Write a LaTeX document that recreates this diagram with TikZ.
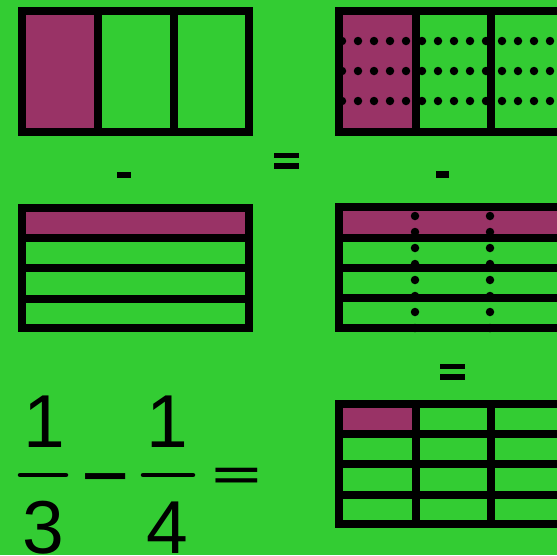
\documentclass[tikz,border=0pt]{standalone}
\usepackage{fontspec}
\setmainfont{Liberation Sans}
\usetikzlibrary{positioning}
\definecolor{bggreen}{RGB}{51,204,51}
\definecolor{plum}{RGB}{153,51,102}

\begin{document}
\begin{tikzpicture}[x=1pt,y=-1pt,
  frame/.style={draw=black,line width=8pt},
  part/.style={fill=plum},
  sign/.style={fill=black},
  dot/.style={circle,fill=black,minimum size=8.5pt,inner sep=0pt},
  digit/.style={font=\fontsize{75}{75}\selectfont,inner sep=0pt,anchor=base},
  bar/.style={line width=4.5pt,line cap=round}
]
\fill[bggreen] (0,0) rectangle (557,555);
\useasboundingbox (0,0) rectangle (557,555);

% one third
\fill[part] (26,15) rectangle (98,128);
\draw[frame] (22,11) rectangle (249,132);
\draw[frame] (98,11) -- (98,132) (173.5,11) -- (173.5,132);
\fill[sign] (117,172) rectangle (131,178);

% one quarter
\fill[part] (26,212) rectangle (245,237);
\draw[frame] (22,208) rectangle (249,328);
\draw[frame] (22,237.5) -- (249,237.5) (22,268) -- (249,268) (22,298.5) -- (249,298.5);

\fill[sign] (274,153) rectangle (299,158);
\fill[sign] (274,163) rectangle (299,169);

% thirds cut in twelfths
\fill[part] (343,15) rectangle (415,128);
\draw[frame] (339,11) rectangle (566,132);
\draw[frame] (415.5,11) -- (415.5,132) (491,11) -- (491,132);
\foreach \i in {0,...,13}
  \foreach \r in {41,71,101}
    \node[dot] (t\i-\r) at ({342+16*\i},\r) {};
\fill[sign] (436,171) rectangle (449,178);

% quarters cut in twelfths
\fill[part] (343,211) rectangle (566,237);
\draw[frame] (339,206.5) rectangle (566,328);
\draw[frame] (339,237.5) -- (566,237.5) (339,268) -- (566,268) (339,298) -- (566,298);
\foreach \c in {415,490}
  \foreach \k in {0,...,7}
    \node[dot] (q\c-\k) at (\c,{216+16*\k}) {};

\fill[sign] (440,364) rectangle (465,369);
\fill[sign] (440,374) rectangle (465,380);

% result
\fill[part] (343,408) rectangle (415.5,434);
\draw[frame] (339,404) rectangle (566,524.3);
\draw[frame] (339,434) -- (566,434) (339,464.3) -- (566,464.3) (339,494.5) -- (566,494.5);
\draw[frame] (415.5,404) -- (415.5,524.3) (491,404) -- (491,524.3);

% fractions
\node[digit] (numA) at (44.5,447) {1};
\node[digit] (denA) at (43,553) {3};
\node[digit] (numB) at (167,447) {1};
\node[digit] (denB) at (167,553) {4};
\draw[bar] (20,475) -- (66,475);
\draw[bar] (143,475) -- (193,475);
\node[digit] (minus) at (106,504) {\scalebox{1.1}[1.12]{−}};
\node[digit] (equal) at (236.5,488) {\scalebox{1.11}[0.52]{\bfseries =}};
\end{tikzpicture}
\end{document}
